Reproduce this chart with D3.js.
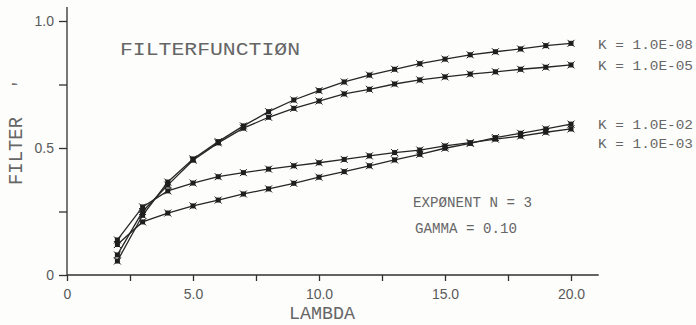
<!DOCTYPE html>
<html lang="en">
<head>
    <meta charset="UTF-8">
    <title>Filterfunction</title>
    <script src="https://d3js.org/d3.v7.min.js"></script>
    <style>
        body { margin: 0; background: #fdfdfc; }
        svg { display: block; }
        .plot-text { font-family: "Liberation Mono", "DejaVu Sans Mono", monospace; fill: #666; }
        .tick text { font-family: "Liberation Sans", Arial, sans-serif; font-size: 14px; fill: #5a5a5a; }
        .axis path, .axis line { stroke: #303030; stroke-width: 1.3; }
    </style>
</head>
<body>
    <svg id="chart"></svg>

    <script>
        // lambda values (same for every curve)
        var lambda = [2, 3, 4, 5, 6, 7, 8, 9, 10, 11, 12, 13, 14, 15, 16, 17, 18, 19, 20];

        // filter values
        var filterK08 = [0.055, 0.235, 0.366, 0.457, 0.525, 0.587, 0.643, 0.689, 0.726, 0.760, 0.787, 0.810, 0.832, 0.850, 0.867, 0.879, 0.890, 0.903, 0.912];
        var filterK05 = [0.079, 0.250, 0.354, 0.452, 0.520, 0.578, 0.621, 0.656, 0.685, 0.713, 0.731, 0.752, 0.768, 0.780, 0.791, 0.800, 0.810, 0.818, 0.827];
        var filterK02 = [0.120, 0.209, 0.244, 0.272, 0.295, 0.319, 0.339, 0.361, 0.385, 0.407, 0.430, 0.453, 0.475, 0.499, 0.518, 0.541, 0.558, 0.575, 0.594];
        var filterK03 = [0.138, 0.268, 0.331, 0.362, 0.387, 0.403, 0.417, 0.430, 0.442, 0.455, 0.469, 0.482, 0.492, 0.508, 0.521, 0.535, 0.547, 0.562, 0.575];

        var seriesNames = ['K = 1.0E-08', 'K = 1.0E-05', 'K = 1.0E-02', 'K = 1.0E-03'];
        var seriesValues = [filterK08, filterK05, filterK02, filterK03];

        var xTicks = [0, 2.5, 5, 7.5, 10, 12.5, 15, 17.5, 20];
        var yTicks = [0, 0.25, 0.5, 0.75, 1.0];

        var width = 696, height = 325;

        var svg = d3.select('#chart')
            .attr('width', width)
            .attr('height', height);

        var xScale = d3.scaleLinear().domain([0, 20]).range([67, 571]);
        var yScale = d3.scaleLinear().domain([0, 1]).range([275, 21]);

        // axes
        var xAxis = d3.axisBottom(xScale)
            .tickValues(xTicks)
            .tickSize(6)
            .tickPadding(8)
            .tickFormat(function (d) { return d === 0 ? '0' : (d % 5 === 0 ? d.toFixed(1) : ''); });

        var yAxis = d3.axisLeft(yScale)
            .tickValues(yTicks)
            .tickSize(8)
            .tickPadding(5)
            .tickFormat(function (d) { return d === 0 ? '0' : (d % 0.5 === 0 ? d.toFixed(1) : ''); });

        var gx = svg.append('g')
            .attr('class', 'axis')
            .attr('transform', 'translate(0,' + yScale(0) + ')')
            .call(xAxis);
        gx.select('.domain').remove();
        gx.append('line')
            .attr('x1', xScale(0)).attr('x2', xScale(21.1))
            .attr('y1', 0).attr('y2', 0);

        var gy = svg.append('g')
            .attr('class', 'axis')
            .attr('transform', 'translate(' + xScale(0) + ',0)')
            .call(yAxis);
        gy.select('.domain').remove();
        gy.append('line')
            .attr('x1', 0).attr('x2', 0)
            .attr('y1', yScale(1.055)).attr('y2', yScale(0));

        // curves
        var line = d3.line()
            .x(function (d, i) { return xScale(lambda[i]); })
            .y(function (d) { return yScale(d); });

        seriesValues.forEach(function (vals) {
            svg.append('path')
                .datum(vals)
                .attr('fill', 'none')
                .attr('stroke', '#262626')
                .attr('stroke-width', 1.3)
                .attr('d', line);
        });

        // markers: small filled box with a cross through it
        seriesValues.forEach(function (vals) {
            var m = svg.selectAll(null)
                .data(vals)
                .enter()
                .append('g')
                .attr('transform', function (d, i) { return 'translate(' + xScale(lambda[i]) + ',' + yScale(d) + ')'; });
            m.append('rect')
                .attr('x', -2.5).attr('y', -2.5)
                .attr('width', 5).attr('height', 5)
                .attr('fill', '#1e1e1e');
            m.append('path')
                .attr('d', 'M-3.5,-3.5L3.5,3.5M-3.5,3.5L3.5,-3.5')
                .attr('stroke', '#1e1e1e')
                .attr('stroke-width', 1);
        });

        // texts
        svg.append('text')
            .attr('class', 'plot-text')
            .attr('x', 120).attr('y', 55)
            .attr('font-size', 19)
            .attr('textLength', 180)
            .attr('lengthAdjust', 'spacingAndGlyphs')
            .text('FILTERFUNCTIØN');

        var legendY = [49, 70, 129, 148];
        seriesNames.forEach(function (name, i) {
            svg.append('text')
                .attr('class', 'plot-text')
                .attr('x', 598).attr('y', legendY[i])
                .attr('font-size', 13)
                .attr('textLength', 95)
                .attr('lengthAdjust', 'spacingAndGlyphs')
                .text(name);
        });

        svg.append('text')
            .attr('class', 'plot-text')
            .attr('x', 413).attr('y', 207)
            .attr('font-size', 14)
            .attr('textLength', 119)
            .attr('lengthAdjust', 'spacingAndGlyphs')
            .text('EXPØNENT N = 3');

        svg.append('text')
            .attr('class', 'plot-text')
            .attr('x', 415).attr('y', 233)
            .attr('font-size', 14)
            .attr('textLength', 102)
            .attr('lengthAdjust', 'spacingAndGlyphs')
            .text('GAMMA = 0.10');

        svg.append('text')
            .attr('class', 'plot-text')
            .attr('x', 322).attr('y', 319)
            .attr('font-size', 19)
            .attr('text-anchor', 'middle')
            .attr('textLength', 66)
            .attr('lengthAdjust', 'spacingAndGlyphs')
            .text('LAMBDA');

        svg.append('text')
            .attr('class', 'plot-text')
            .attr('transform', 'translate(22,185) rotate(-90)')
            .attr('font-size', 20)
            .attr('textLength', 68)
            .attr('lengthAdjust', 'spacingAndGlyphs')
            .text('FILTER');

        svg.append('text')
            .attr('class', 'plot-text')
            .attr('transform', 'translate(24,89) rotate(-90)')
            .attr('font-size', 16)
            .text("'");
    </script>
</body>
</html>
